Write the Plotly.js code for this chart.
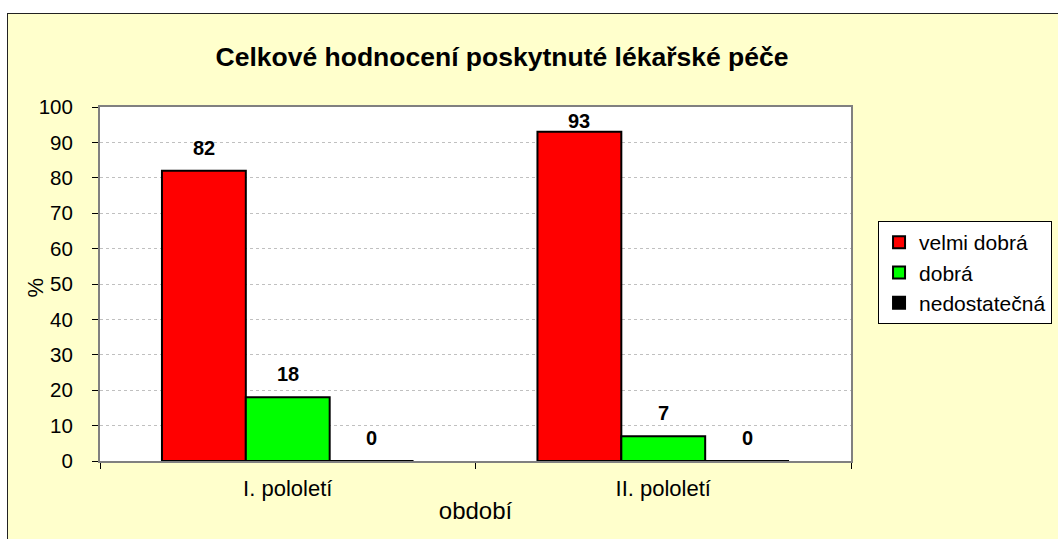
<!DOCTYPE html>
<html>
<head>
<meta charset="utf-8">
<script src="https://cdn.plot.ly/plotly-3.0.1.min.js"></script>
<style>
  html, body { margin: 0; padding: 0; background: #ffffff; width: 1058px; height: 539px; overflow: hidden; }
  #wrap { position: absolute; left: 7px; top: 13px; width: 1051px; height: 526px; overflow: hidden;
          border-left: 1px solid #222; border-top: 1px solid #222; background: #FFFFCC; }
  #chart { width: 1100px; height: 525px; }
</style>
</head>
<body>
<div id="wrap"><div id="chart"></div></div>
<script>
const categories = ['I. pololetí', 'II. pololetí'];
const seriesNames = ['velmi dobrá', 'dobrá', 'nedostatečná'];
const velmiDobra = [82, 93];
const dobra = [18, 7];
const nedostatecna = [0, 0];
const seriesColors = ['#FF0000', '#00FF00', '#000000'];
const yTicks = [0, 10, 20, 30, 40, 50, 60, 70, 80, 90, 100];

const seriesValues = [velmiDobra, dobra, nedostatecna];
const bargap = 0.33;
const barW = (1 - bargap) / seriesValues.length;
const yMax = 100;
const plotH = 354;
const pxPerUnit = plotH / yMax;

const font = 'Liberation Sans, Arial, sans-serif';

const traces = seriesValues.map((vals, i) => ({
  type: 'bar',
  name: seriesNames[i],
  x: categories,
  y: vals,
  legendgroup: 'g' + i,
  marker: { color: seriesColors[i], line: { color: '#000000', width: 2 } },
  hoverinfo: 'x+y+name'
}));

const annotations = [];
seriesValues.forEach((vals, i) => {
  vals.forEach((v, j) => {
    annotations.push({
      x: j + (i - (seriesValues.length - 1) / 2) * barW,
      y: v,
      xref: 'x', yref: 'y',
      text: '<b>' + v + '</b>',
      showarrow: false,
      yshift: Math.min(23, (yMax - v) * pxPerUnit - 14),
      font: { family: font, size: 20, color: '#000000' }
    });
  });
});

annotations.push({
  text: '%',
  xref: 'paper', yref: 'paper',
  x: -0.0852, y: 0.49,
  xanchor: 'center', yanchor: 'middle',
  textangle: -90,
  showarrow: false,
  font: { family: font, size: 22, color: '#000000' }
});

const layout = {
  width: 1100,
  height: 525,
  paper_bgcolor: '#FFFFCC',
  plot_bgcolor: '#FFFFFF',
  margin: { l: 92, r: 257, t: 93, b: 78 },
  barmode: 'group',
  bargap: bargap,
  bargroupgap: 0,
  showlegend: true,
  title: {
    text: '<b>Celkové hodnocení poskytnuté lékařské péče</b>',
    xref: 'paper', yref: 'container',
    x: 0.5353, xanchor: 'center',
    y: 0.918, yanchor: 'middle',
    font: { family: font, size: 26.5, color: '#000000' }
  },
  xaxis: {
    type: 'category',
    tickson: 'boundaries',
    ticks: 'outside',
    ticklen: 6,
    tickcolor: '#000000',
    ticklabelstandoff: 7,
    showline: true,
    linecolor: '#808080',
    linewidth: 2,
    mirror: true,
    showgrid: false,
    tickfont: { family: font, size: 22, color: '#000000' },
    title: { text: 'období', standoff: 2, font: { family: font, size: 24, color: '#000000' } }
  },
  yaxis: {
    range: [0, yMax],
    tickvals: yTicks,
    ticks: 'outside',
    ticklen: 6,
    tickcolor: '#000000',
    ticklabelstandoff: 15,
    showline: true,
    linecolor: '#808080',
    linewidth: 2,
    mirror: true,
    showgrid: true,
    gridcolor: '#C0C0C0',
    griddash: 'dot',
    gridwidth: 1,
    zeroline: false,
    tickfont: { family: font, size: 20.5, color: '#000000' }
  },
  legend: {
    x: 1.036, xanchor: 'left',
    y: 0.678, yanchor: 'top',
    bgcolor: '#FFFFFF',
    bordercolor: '#000000',
    borderwidth: 1,
    traceorder: 'grouped',
    tracegroupgap: 0,
    font: { family: font, size: 21, color: '#000000' }
  },
  annotations: annotations
};

Plotly.newPlot('chart', traces, layout, { displayModeBar: false, staticPlot: true });
</script>
</body>
</html>
